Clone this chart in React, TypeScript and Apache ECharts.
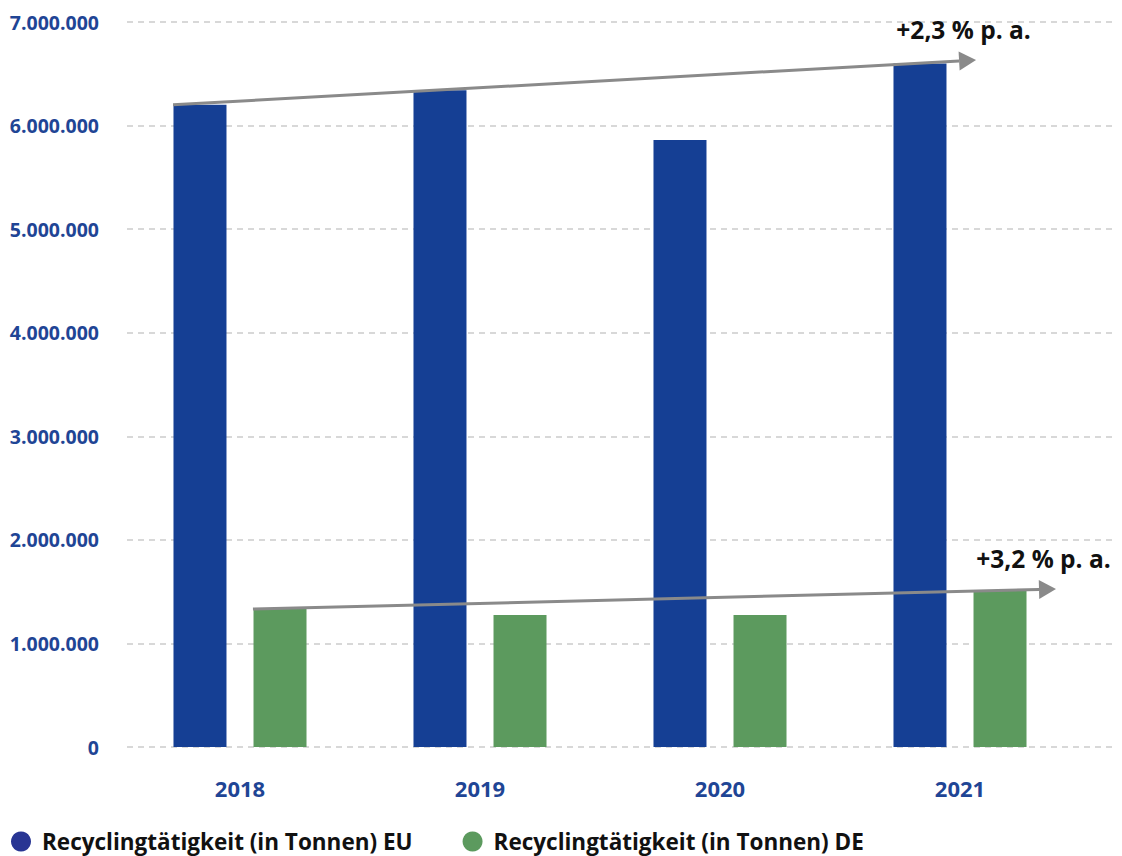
import React, { useEffect, useRef } from "react";
import * as echarts from "echarts";

const years = ["2018", "2019", "2020", "2021"];
const euValues = [6200000, 6340000, 5860000, 6600000];
const deValues = [1332000, 1274000, 1274000, 1516000];
const yTicks = [0, 1000000, 2000000, 3000000, 4000000, 5000000, 6000000, 7000000];
const seriesNames = ["Recyclingtätigkeit (in Tonnen) EU", "Recyclingtätigkeit (in Tonnen) DE"];
// trend arrows: [startCategoryIndex, startValue, endCategoryIndex, endValue, startBandOffset, endBandOffset]
const trendEU = [0, 6200000, 3, 6633000, -0.279, 0.067];
const trendDE = [0, 1332000, 3, 1525000, 0.054, 0.4];
const trendLabels = ["+2,3 % p. a.", "+3,2 % p. a."];

const FONT = "'Open Sans', 'Noto Sans', sans-serif";
const BLUE = "#153f94";
const GREEN = "#5c9a5e";
const LABEL_BLUE = "#1f4595";

function fmt(v: number) {
  return String(v).replace(/\B(?=(\d{3})+(?!\d))/g, ".");
}

export default function App() {
  const ref = useRef<HTMLDivElement>(null);
  useEffect(() => {
    if (!ref.current) return;
    const chart = echarts.init(ref.current, null, { renderer: "svg" });
    const yMax = yTicks[yTicks.length - 1];
    const arrowData = [
      { value: trendEU, label: trendLabels[0] },
      { value: trendDE, label: trendLabels[1] },
    ];
    chart.setOption({
      animation: false,
      textStyle: { fontFamily: FONT },
      grid: [
        { left: 120, right: 42, top: 22, bottom: 109 },
        { left: 127, right: 10, top: 22, bottom: 109 },
      ],
      xAxis: [
        {
          type: "category",
          gridIndex: 0,
          data: years,
          axisLine: { show: false },
          axisTick: { show: false },
          axisLabel: {
            color: LABEL_BLUE,
            fontWeight: "bold",
            fontSize: 22,
            fontFamily: FONT,
            margin: 30,
          },
        },
        { type: "value", gridIndex: 1, min: 0, max: 1, show: false },
      ],
      yAxis: [
        { type: "value", gridIndex: 0, min: 0, max: yMax, interval: 1000000, show: false },
        {
          type: "value",
          gridIndex: 1,
          min: 0,
          max: yMax,
          interval: 1000000,
          axisLine: { show: false },
          axisTick: { show: false },
          axisLabel: {
            color: LABEL_BLUE,
            fontWeight: "bold",
            fontSize: 19.5,
            fontFamily: FONT,
            margin: 28,
            formatter: (v: number) => fmt(v),
          },
          splitLine: {
            show: true,
            lineStyle: { color: "#cccccc", width: 1.5, type: [6, 5] },
          },
        },
      ],
      legend: {
        left: 11,
        top: 830,
        icon: "circle",
        itemWidth: 20,
        itemHeight: 20,
        itemGap: 50,
        padding: 0,
        textStyle: { fontFamily: FONT, fontWeight: "bold", fontSize: 22.5, color: "#111111", padding: [0, 0, 0, 6] },
        data: [
          { name: seriesNames[0], itemStyle: { color: "#283593" } },
          { name: seriesNames[1], itemStyle: { color: GREEN } },
        ],
      },
      series: [
        {
          name: seriesNames[0],
          type: "bar",
          data: euValues,
          barWidth: 53,
          barGap: "51%",
          itemStyle: { color: BLUE },
        },
        {
          name: seriesNames[1],
          type: "bar",
          data: deValues,
          barWidth: 53,
          itemStyle: { color: GREEN },
        },
        {
          type: "custom",
          xAxisIndex: 0,
          yAxisIndex: 0,
          clip: false,
          z: 10,
          encode: { x: [0, 2], y: [1, 3] },
          data: arrowData,
          renderItem: (params: any, api: any) => {
            const band = api.size([1, 0])[0];
            const p0 = api.coord([api.value(0), api.value(1)]);
            const p1 = api.coord([api.value(2), api.value(3)]);
            const x0 = p0[0] + api.value(4) * band;
            const y0 = p0[1];
            const x1 = p1[0] + api.value(5) * band;
            const y1 = p1[1];
            const ang = Math.atan2(y1 - y0, x1 - x0);
            const headLen = 17;
            const headHalf = 9.5;
            const bx = x1 - headLen * Math.cos(ang);
            const by = y1 - headLen * Math.sin(ang);
            const nx = -Math.sin(ang);
            const ny = Math.cos(ang);
            const label = arrowData[params.dataIndex].label;
            return {
              type: "group",
              children: [
                {
                  type: "line",
                  shape: { x1: x0, y1: y0, x2: bx, y2: by },
                  style: { stroke: "#8a8a8a", lineWidth: 3 },
                },
                {
                  type: "polygon",
                  shape: {
                    points: [
                      [x1, y1],
                      [bx + nx * headHalf, by + ny * headHalf],
                      [bx - nx * headHalf, by - ny * headHalf],
                    ],
                  },
                  style: { fill: "#8a8a8a" },
                },
                {
                  type: "text",
                  x: x1 - 12.5,
                  y: y1 - 31,
                  style: {
                    text: label,
                    fill: "#111111",
                    font: `bold 24.5px ${FONT}`,
                    align: "center",
                    verticalAlign: "middle",
                  },
                },
              ],
            };
          },
        },
      ],
    });
    return () => chart.dispose();
  }, []);
  return (
    <div
      ref={ref}
      style={{ position: "absolute", left: 0, top: 0, width: 1122, height: 856 }}
    />
  );
}
